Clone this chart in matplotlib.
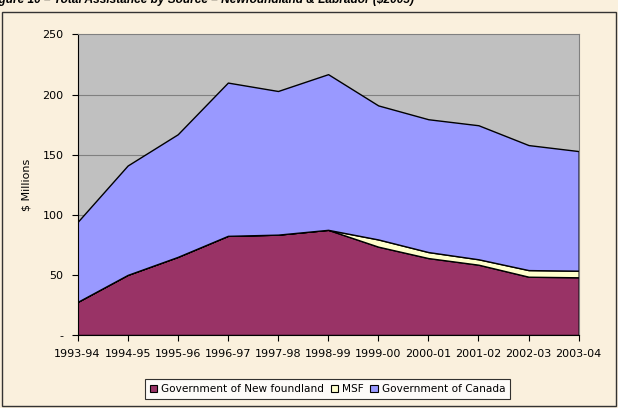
import matplotlib
matplotlib.use('Agg')
import matplotlib.pyplot as plt
from matplotlib.patches import Patch, Rectangle
import numpy as np

# data ($ millions, 2003 dollars)
years = ['1993-94', '1994-95', '1995-96', '1996-97', '1997-98', '1998-99',
         '1999-00', '2000-01', '2001-02', '2002-03', '2003-04']
newfoundland = [27.5, 50, 65, 82.5, 83.5, 87.5, 73.5, 64, 58.5, 48.5, 48]
msf = [0, 0, 0, 0, 0, 0, 6, 5, 4.5, 5.5, 5.5]
canada = [66.5, 91, 102, 127.5, 119.5, 129.5, 111.5, 110.5, 111.5, 104, 99.5]

series_names = ['Government of New foundland', 'MSF', 'Government of Canada']
series_colors = ['#993366', '#FFFFCC', '#9999FF']

y_ticks = [0, 50, 100, 150, 200, 250]
y_ticklabels = ['-', '50', '100', '150', '200', '250']

bg = '#FAF0DD'

fig = plt.figure(figsize=(6.18, 4.08), dpi=100)
fig.patch.set_facecolor(bg)

# chart area border
fig.patches.append(Rectangle((2/618, 2/408), 614/618, 394/408, transform=fig.transFigure,
                             fill=False, edgecolor='#333333', linewidth=1.0))

# cut-off title at the very top
fig.text(-12/618, 1.0, 'Figure 10 \u2013 Total Assistance by Source \u2013 Newfoundland & Labrador ($2003)',
         ha='left', va='center', fontsize=8.6, fontweight='bold', fontstyle='italic',
         family='Liberation Sans')

ax = fig.add_axes([77.5/618, 73/408, 501.2/618, 300.5/408])
ax.set_facecolor('#C0C0C0')

x = np.arange(len(years))
ax.stackplot(x, newfoundland, msf, canada, colors=series_colors,
             edgecolor='black', linewidth=1.0)

ax.set_xlim(0, len(years) - 1)
ax.set_ylim(0, 250)
ax.set_yticks(y_ticks)
ax.set_yticklabels(y_ticklabels)
ax.set_xticks(x)
ax.set_xticklabels(years)
ax.tick_params(axis='both', direction='out', length=4, width=0.8, labelsize=8, pad=6)

for y in y_ticks[1:-1]:
    ax.axhline(y, color='#808080', linewidth=0.8, zorder=0.5)

for side in ['top', 'right']:
    ax.spines[side].set_color('#808080')
for side in ['left', 'bottom']:
    ax.spines[side].set_color('black')

ax.set_ylabel('$ Millions', fontsize=8, labelpad=8)

handles = [Patch(facecolor=c, edgecolor='black', linewidth=0.8) for c in series_colors]
leg = fig.legend(handles, series_names, loc='center', bbox_to_anchor=(327.5/618, 19/408),
                 ncol=3, fontsize=7.6, frameon=True, fancybox=False, handlelength=0.7,
                 handleheight=0.7, handletextpad=0.4, columnspacing=0.6,
                 borderpad=0.45, borderaxespad=0)
leg.get_frame().set_edgecolor('black')
leg.get_frame().set_linewidth(0.8)

fig.savefig('out.png', dpi=100, facecolor=bg)
